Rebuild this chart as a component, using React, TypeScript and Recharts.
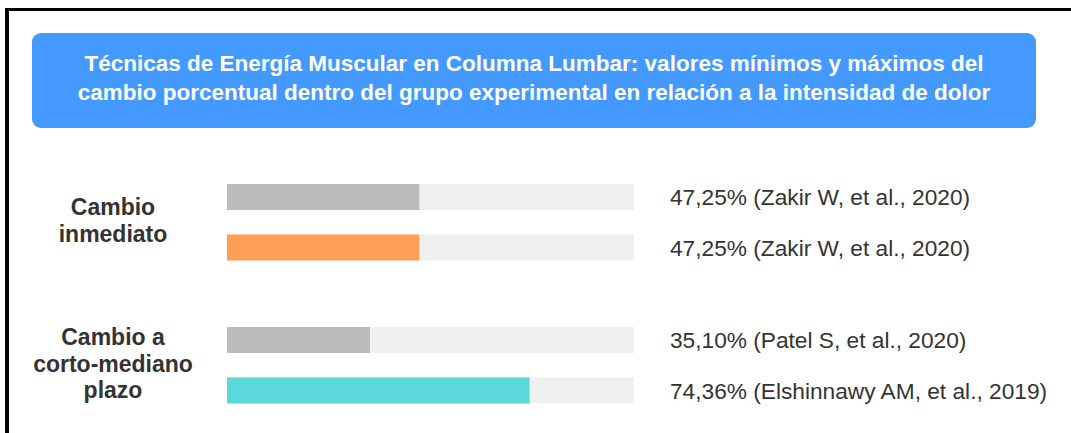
import React from "react";
import { BarChart, Bar, XAxis, YAxis, Cell, Label } from "recharts";

const titleLines = [
  "Técnicas de Energía Muscular en Columna Lumbar: valores mínimos y máximos del",
  "cambio porcentual dentro del grupo experimental en relación a la intensidad de dolor",
];

const groupLabels = [["Cambio", "inmediato"], ["Cambio a", "corto-mediano", "plazo"]];
const rowNames = [["mín", "máx"], ["mín", "máx"]];
const values = [[47.25, 47.25], [35.1, 74.36]];
const citations = [
  ["47,25% (Zakir W, et al., 2020)", "47,25% (Zakir W, et al., 2020)"],
  ["35,10% (Patel S, et al., 2020)", "74,36% (Elshinnawy AM, et al., 2019)"],
];
const barColors = [["#BBBCBE", "#FF9F55"], ["#BBBCBE", "#5AD8DA"]];

const TEXT = "#333333";
const TRACK = "#EFF0F0";
const FONT = "Liberation Sans, Arial, sans-serif";

const CiteTick = (props: any) => {
  const { x, y, payload } = props;
  return (
    <text x={x} y={y} dy={8} textAnchor="start" fill={TEXT} fontSize={22.7} fontFamily={FONT}>
      {payload.value}
    </text>
  );
};

const GroupLabel = ({ viewBox, lines }: any) => {
  const cx = viewBox.x + viewBox.width / 2 - 4.5;
  const cy = viewBox.y + viewBox.height / 2;
  const lh = 26.5;
  const start = cy - ((lines.length - 1) * lh) / 2 + 6;
  return (
    <text textAnchor="middle" fill={TEXT} fontSize={23} fontWeight={700} fontFamily={FONT}>
      {lines.map((l: string, i: number) => (
        <tspan key={i} x={cx} y={start + i * lh}>
          {l}
        </tspan>
      ))}
    </text>
  );
};

const GroupChart = ({ g, top }: { g: number; top: number }) => {
  const data = rowNames[g].map((name, i) => ({
    name,
    value: values[g][i],
    cite: citations[g][i],
  }));
  return (
    <div style={{ position: "absolute", left: 8, top }}>
      <BarChart
        width={1050}
        height={101}
        data={data}
        layout="vertical"
        margin={{ top: 0, right: 0, bottom: 0, left: 0 }}
        barCategoryGap={0}
      >
        <XAxis type="number" domain={[0, 100]} hide />
        <YAxis
          yAxisId="left"
          type="category"
          dataKey="name"
          width={219}
          tick={false}
          axisLine={false}
          tickLine={false}
        >
          <Label content={(p: any) => <GroupLabel {...p} lines={groupLabels[g]} />} />
        </YAxis>
        <YAxis
          yAxisId="right"
          orientation="right"
          type="category"
          dataKey="cite"
          width={424}
          axisLine={false}
          tickLine={false}
          tickSize={0}
          tickMargin={36}
          tick={<CiteTick />}
        />
        <Bar
          yAxisId="left"
          dataKey="value"
          barSize={26}
          background={{ fill: TRACK }}
          isAnimationActive={false}
        >
          {data.map((_, i) => (
            <Cell key={i} fill={barColors[g][i]} />
          ))}
        </Bar>
      </BarChart>
    </div>
  );
};

export default function App() {
  return (
    <div
      style={{
        position: "absolute",
        left: 0,
        top: 0,
        width: 1071,
        height: 433,
        background: "#fff",
        overflow: "hidden",
      }}
    >
      <div
        style={{
          position: "absolute",
          left: 5,
          top: 8,
          width: 1100,
          height: 500,
          borderLeft: "4px solid #000",
          borderTop: "3px solid #000",
        }}
      />
      <div
        style={{
          position: "absolute",
          left: 32,
          top: 33,
          width: 1004,
          height: 95,
          boxSizing: "border-box",
          paddingBottom: 6,
          background: "#4499FF",
          borderRadius: 9,
          color: "#fff",
          fontFamily: FONT,
          fontWeight: 700,
          fontSize: 22.5,
          lineHeight: "29px",
          textAlign: "center",
          display: "flex",
          flexDirection: "column",
          justifyContent: "center",
          whiteSpace: "nowrap",
        }}
      >
        {titleLines.map((l, i) => (
          <div key={i}>{l}</div>
        ))}
      </div>
      <GroupChart g={0} top={172} />
      <GroupChart g={1} top={315} />
    </div>
  );
}
